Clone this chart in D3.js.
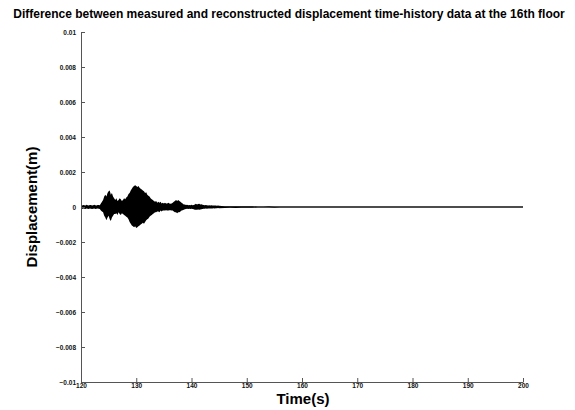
<!DOCTYPE html>
<html>
<head>
<meta charset="utf-8">
<script src="https://cdn.jsdelivr.net/npm/d3@7"></script>
<style>
  body { margin: 0; background: #fff; }
  text { font-family: "Liberation Sans", Arial, sans-serif; }
</style>
</head>
<body>
<div id="chart"></div>
<script>
// canvas
const width = 575,
  height = 410,
  marginLeft = 81,
  marginTop = 32,
  plotRight = 523,
  plotBottom = 382

const title = 'Difference between measured and reconstructed displacement time-history data at the 16th floor'
const xTicks = [120, 130, 140, 150, 160, 170, 180, 190, 200]
const yTicks = [0.01, 0.008, 0.006, 0.004, 0.002, 0, -0.002, -0.004, -0.006, -0.008, -0.01]

// envelope of the signal (units of 1e-4 m)
// active part: 120 s .. 145 s, every 0.2 s
const burstStart = 120, burstStep = 0.2
const burstUpper = [
  1, 0.8, 1.2, 1, 0.9, 1.3, 1, 0.8, 1.1, 1.2, 0.9, 1, 1.3, 1, 0.9, 1.2, 1.1, 1,
  2, 3,
  4, 6, 7, 6, 8, 9, 9.5, 7, 8, 6, 5,
  4, 5, 3.5, 4, 5, 4.5, 3.5, 4, 5, 4.5, 5.5,
  6, 7.5, 8, 9.5, 10.5, 11.5,
  12, 12.5, 12, 11.5, 12, 11, 10.5, 10,
  9.5, 9, 8, 8.5, 7, 6.5, 6, 5, 4.5, 4,
  3.5, 3, 3.5, 2.5, 3, 2.5, 3, 2, 2.5, 2, 2.5, 2, 2, 2.5, 2, 1.8, 2,
  2.5, 3, 3.5, 4, 3.5, 4, 3.5, 3, 2.5, 2, 1.5,
  1.5, 1.2, 1.3, 1, 1.2, 1, 1.3, 1, 1.2, 1.5, 1.8, 1.5, 1.7, 1.8, 1.5, 1.6,
  1.3, 1.2, 1, 1.1, 1, 0.9, 1, 0.8, 1, 0.9, 0.8, 0.9, 0.8, 0.7, 0.8, 0.7
]
const burstLower = [
  1, 1.1, 0.8, 1, 1.2, 0.9, 1, 1.1, 0.8, 1, 1.2, 1, 0.9, 1.1, 1, 0.8, 1, 1.1,
  2, 2.5,
  3, 5, 6, 7.5, 6, 5, 7, 8, 6, 5, 4,
  4, 3.5, 4.5, 3, 4, 4.5, 3.5, 4, 4.5, 5, 5.5,
  6, 7, 8.5, 9.5, 10.5, 11,
  11.5, 11, 12, 11.5, 11, 10.5, 10, 9.5,
  9, 9.5, 8.5, 7.5, 7, 6.5, 5.5, 5, 4.5, 4,
  3.5, 3, 3, 2.5, 2.5, 3, 2, 2.5, 2, 2, 2, 1.8, 2, 2, 1.8, 1.8, 2,
  2, 2.5, 3, 3, 3.5, 3, 3, 2.5, 2, 1.8, 1.5,
  1.3, 1.2, 1, 1.2, 1, 1.1, 1, 1.2, 1.3, 1.5, 1.6, 1.5, 1.4, 1.6, 1.4, 1.3,
  1.2, 1, 1, 0.9, 1, 0.8, 0.9, 0.8, 0.8, 0.9, 0.7, 0.8, 0.7, 0.7, 0.6, 0.7
]
// quiet tail: 146 s .. 200 s, every 1 s
const tailStart = 146, tailStep = 1
const tailUpper = [
  0.5, 0.5, 0.4, 0.4, 0.5, 0.4, 0.3, 0.3, 0.4, 0.3, 0.3, 0.3, 0.3, 0.3, 0.3, 0.3, 0.3, 0.3, 0.3,
  0.3, 0.3, 0.3, 0.3, 0.3, 0.3, 0.3, 0.3, 0.3, 0.3, 0.3, 0.3, 0.3, 0.3, 0.3, 0.3, 0.3, 0.3,
  0.3, 0.3, 0.3, 0.3, 0.3, 0.3, 0.3, 0.3, 0.3, 0.3, 0.3, 0.3, 0.3, 0.3, 0.3, 0.3, 0.3, 0.3
]
const tailLower = [
  0.5, 0.4, 0.5, 0.4, 0.4, 0.4, 0.3, 0.3, 0.3, 0.4, 0.3, 0.3, 0.3, 0.3, 0.3, 0.3, 0.3, 0.3, 0.3,
  0.3, 0.3, 0.3, 0.3, 0.3, 0.3, 0.3, 0.3, 0.3, 0.3, 0.3, 0.3, 0.3, 0.3, 0.3, 0.3, 0.3, 0.3,
  0.3, 0.3, 0.3, 0.3, 0.3, 0.3, 0.3, 0.3, 0.3, 0.3, 0.3, 0.3, 0.3, 0.3, 0.3, 0.3, 0.3, 0.3
]

let svg = d3.select('#chart')
  .append('svg')
  .attr('width', width)
  .attr('height', height)

// table for the area
let env = burstUpper.map((u, i) => ({ t: burstStart + i * burstStep, up: u, lo: burstLower[i] }))
  .concat(tailUpper.map((u, i) => ({ t: tailStart + i * tailStep, up: u, lo: tailLower[i] })))

const xScale = d3.scaleLinear()
  .domain([120, 200])
  .range([marginLeft, plotRight])

const yScale = d3.scaleLinear()
  .domain([-0.01, 0.01])
  .range([plotBottom, marginTop])

// signal
let area = d3.area()
  .x(d => xScale(d.t))
  .y0(d => yScale(-d.lo * 1e-4))
  .y1(d => yScale(d.up * 1e-4))

svg.append('path')
  .datum(env)
  .attr('d', area)
  .attr('fill', '#000')

svg.append('line')
  .attr('x1', xScale(120)).attr('x2', xScale(200))
  .attr('y1', yScale(0)).attr('y2', yScale(0))
  .attr('stroke', '#000')
  .attr('stroke-width', 0.8)

// axes, ticks pointing inward
let axisY = d3.axisLeft(yScale)
  .tickValues(yTicks)
  .tickSizeInner(-4)
  .tickSizeOuter(0)
  .tickPadding(5)
  .tickFormat(d => d3.format('')(+d.toFixed(3)))

let axisX = d3.axisBottom(xScale)
  .tickValues(xTicks)
  .tickSizeInner(-4)
  .tickSizeOuter(0)
  .tickPadding(1)

let gy = svg.append('g')
  .attr('transform', `translate(${marginLeft},0)`)
  .call(axisY)
let gx = svg.append('g')
  .attr('transform', `translate(0,${plotBottom})`)
  .call(axisX)

for (let g of [gx, gy]) {
  g.select('.domain').attr('stroke', '#555')
  g.selectAll('.tick line').attr('stroke', '#555')
  g.selectAll('.tick text')
    .attr('font-size', 6.5)
    .attr('font-weight', 'bold')
    .attr('fill', '#111')
    .style('font-family', '"Liberation Sans", Arial, sans-serif')
}

// titles
svg.append('text')
  .attr('x', 289)
  .attr('y', 18)
  .attr('text-anchor', 'middle')
  .attr('font-size', 12)
  .attr('font-weight', 'bold')
  .text(title)

svg.append('text')
  .attr('transform', 'translate(37,207) rotate(-90)')
  .attr('text-anchor', 'middle')
  .attr('font-size', 15)
  .attr('font-weight', 'bold')
  .text('Displacement(m)')

svg.append('text')
  .attr('x', 303)
  .attr('y', 404)
  .attr('text-anchor', 'middle')
  .attr('font-size', 15)
  .attr('font-weight', 'bold')
  .text('Time(s)')
</script>
</body>
</html>
